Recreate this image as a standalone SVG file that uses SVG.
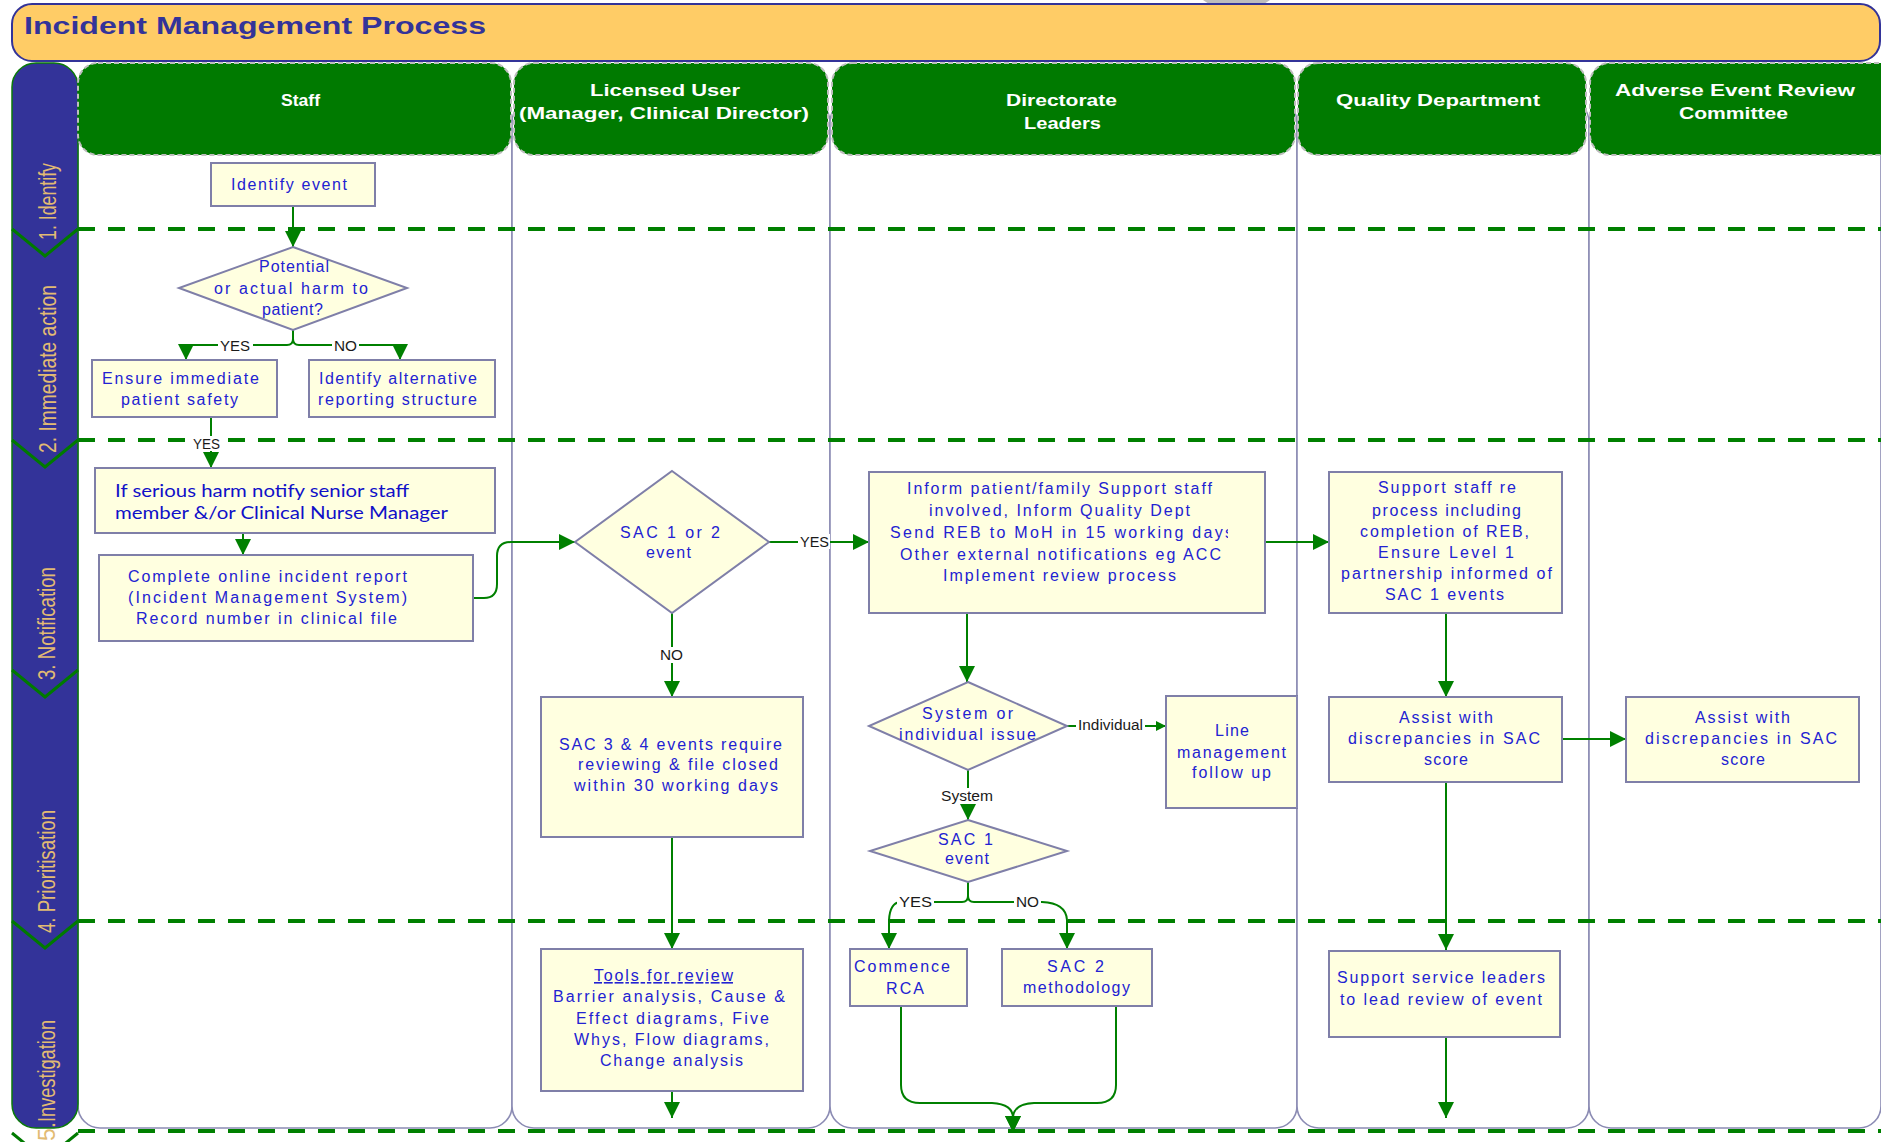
<svg xmlns="http://www.w3.org/2000/svg" width="1881" height="1142" viewBox="0 0 1881 1142">
<style>
.lane{fill:#fff;stroke:#8C8CB4;stroke-width:1.6}
.hdr{fill:#007A00;stroke:#BEBEBE;stroke-width:2;stroke-dasharray:5 3}
.ht{fill:#fff;font-family:"Liberation Sans",Arial,sans-serif;font-size:17px;font-weight:bold}
.box{fill:#FFFFE0;stroke:#7F7FA8;stroke-width:2}
.t{fill:#2222D2;font-family:"Liberation Sans",Arial,sans-serif;font-size:16px}
.tc{fill:#1010C8;font-family:Lato,"Open Sans",sans-serif;font-size:17px}
.c{fill:none;stroke:#008000;stroke-width:2}
.lbl{fill:#1a1a1a;font-family:"Liberation Sans",Arial,sans-serif;font-size:14px}
.bg{fill:#fff}
.ph{fill:#E2BB73;font-family:"Liberation Sans",Arial,sans-serif;font-size:23px}
.dash{stroke:#008000;stroke-width:4;stroke-dasharray:17 13;fill:none}
.chev{fill:none;stroke:#007A00;stroke-width:3}
</style>
<defs>
<marker id="ah" markerUnits="userSpaceOnUse" markerWidth="18" markerHeight="18" refX="16" refY="8" orient="auto"><path d="M0,0 L16,8 L0,16 z" fill="#008000"/></marker>
<marker id="ahs" markerUnits="userSpaceOnUse" markerWidth="12" markerHeight="12" refX="10" refY="5" orient="auto"><path d="M0,0 L10,5 L0,10 z" fill="#008000"/></marker>
<clipPath id="clipInform"><rect x="869" y="472" width="359" height="141"/></clipPath>
</defs>
<rect width="1881" height="1142" fill="#fff"/>
<polygon points="1203,0 1270,0 1264,4 1209,4" fill="#BDBDBD"/>
<g id="banner">
<rect x="12" y="4" width="1868" height="57" rx="20" fill="#FFCC66" stroke="#333399" stroke-width="2"/>
<text x="24" y="34" fill="#333399" font-family="Liberation Sans,Arial,sans-serif" font-size="24" font-weight="bold" textLength="462" lengthAdjust="spacingAndGlyphs">Incident Management Process</text>
</g>
<g id="lanes">
<rect class="lane" x="78" y="100" width="434" height="1028" rx="22"/>
<rect class="lane" x="512" y="100" width="318" height="1028" rx="22"/>
<rect class="lane" x="830" y="100" width="467" height="1028" rx="22"/>
<rect class="lane" x="1297" y="100" width="292" height="1028" rx="22"/>
<rect class="lane" x="1589" y="100" width="292" height="1028" rx="22"/>
</g>
<g id="band">
<rect x="12" y="63" width="66" height="1065" rx="24" fill="#333399" stroke="#0A7A0A" stroke-width="1.5"/>
<polyline class="chev" points="12,229 45,256 78,229"/>
<polyline class="chev" points="12,440 45,467 78,440"/>
<polyline class="chev" points="12,670 45,697 78,670"/>
<polyline class="chev" points="12,921 45,948 78,921"/>
<polyline class="chev" points="12,1133 45,1160 78,1133"/>
<text class="ph" transform="translate(56,240) rotate(-90)" textLength="77" lengthAdjust="spacingAndGlyphs">1. Identify</text>
<text class="ph" transform="translate(56,453) rotate(-90)" textLength="168" lengthAdjust="spacingAndGlyphs">2. Immediate action</text>
<text class="ph" transform="translate(55,680) rotate(-90)" textLength="113" lengthAdjust="spacingAndGlyphs">3. Notification</text>
<text class="ph" transform="translate(55,933) rotate(-90)" textLength="123" lengthAdjust="spacingAndGlyphs">4. Prioritisation</text>
<text class="ph" transform="translate(55,1122) rotate(-90)" textLength="102" lengthAdjust="spacingAndGlyphs">Investigation</text>
<text class="ph" transform="translate(55,1141) rotate(-90)" font-size="20">5.</text>
</g>
<g id="headers">
<g id="h-staff"><rect class="hdr" x="78" y="63" width="433" height="92" rx="20"/><text class="ht" x="281" y="106" textLength="39" lengthAdjust="spacingAndGlyphs">Staff</text></g>
<g id="h-licensed"><rect class="hdr" x="514" y="63" width="314" height="92" rx="20"/><text class="ht" x="590" y="96" textLength="150" lengthAdjust="spacingAndGlyphs">Licensed User</text><text class="ht" x="519" y="119" textLength="290" lengthAdjust="spacingAndGlyphs">(Manager, Clinical Director)</text></g>
<g id="h-directorate"><rect class="hdr" x="832" y="63" width="463" height="92" rx="20"/><text class="ht" x="1006" y="106" textLength="111" lengthAdjust="spacingAndGlyphs">Directorate</text><text class="ht" x="1024" y="129" textLength="77" lengthAdjust="spacingAndGlyphs">Leaders</text></g>
<g id="h-quality"><rect class="hdr" x="1298" y="63" width="288" height="92" rx="20"/><text class="ht" x="1336" y="106" textLength="204" lengthAdjust="spacingAndGlyphs">Quality Department</text></g>
<g id="h-aerc"><rect class="hdr" x="1590" y="63" width="310" height="92" rx="20"/><text class="ht" x="1615" y="96" textLength="240" lengthAdjust="spacingAndGlyphs">Adverse Event Review</text><text class="ht" x="1679" y="119" textLength="109" lengthAdjust="spacingAndGlyphs">Committee</text></g>
</g>
<g id="phase-lines">
<line class="dash" x1="78" y1="229" x2="1881" y2="229"/>
<line class="dash" x1="78" y1="440" x2="1881" y2="440"/>
<line class="dash" x1="78" y1="921" x2="1881" y2="921"/>
<line class="dash" x1="78" y1="1131" x2="1881" y2="1131"/>
</g>
<g id="connectors">
<path class="c" d="M293,206 V247" marker-end="url(#ah)"/>
<path class="c" d="M293,330 V339 Q293,345 287,345 H186 V360" marker-end="url(#ah)"/>
<path class="c" d="M293,339 Q293,345 299,345 H400 V360" marker-end="url(#ah)"/>
<path class="c" d="M211,417 V468" marker-end="url(#ah)"/>
<path class="c" d="M243,533 V555" marker-end="url(#ah)"/>
<path class="c" d="M473,598 H484 Q497,598 497,584 V556 Q497,542 511,542 H575" marker-end="url(#ah)"/>
<path class="c" d="M769,542 H869" marker-end="url(#ah)"/>
<path class="c" d="M672,613 V697" marker-end="url(#ah)"/>
<path class="c" d="M672,837 V949" marker-end="url(#ah)"/>
<path class="c" d="M672,1091 V1118" marker-end="url(#ah)"/>
<path class="c" d="M1265,542 H1329" marker-end="url(#ah)"/>
<path class="c" d="M967,613 V682" marker-end="url(#ah)"/>
<path class="c" d="M1067,726 H1166" marker-end="url(#ahs)"/>
<path class="c" d="M968,770 V820" marker-end="url(#ah)"/>
<path class="c" d="M968,882 V896 Q968,902 962,902 H900 Q890,903 889,920 V949" marker-end="url(#ah)"/>
<path class="c" d="M968,896 Q968,902 974,902 H1042 Q1066,903 1067,920 V949" marker-end="url(#ah)"/>
<path class="c" d="M901,1006 V1085 Q901,1103 920,1103 H992 Q1013,1104 1013,1118 V1132" marker-end="url(#ah)"/>
<path class="c" d="M1116,1006 V1085 Q1116,1103 1097,1103 H1034 Q1013,1104 1013,1118 V1132" marker-end="url(#ah)"/>
<path class="c" d="M1446,613 V697" marker-end="url(#ah)"/>
<path class="c" d="M1562,739 H1626" marker-end="url(#ah)"/>
<path class="c" d="M1446,782 V950" marker-end="url(#ah)"/>
<path class="c" d="M1446,1037 V1118" marker-end="url(#ah)"/>
<rect class="bg" x="218" y="338" width="35" height="15"/><text class="lbl" x="220" y="351" textLength="30" lengthAdjust="spacingAndGlyphs">YES</text>
<rect class="bg" x="332" y="338" width="27" height="15"/><text class="lbl" x="334" y="351" textLength="23" lengthAdjust="spacingAndGlyphs">NO</text>
<rect class="bg" x="191" y="436" width="31" height="15"/><text class="lbl" x="193" y="449" textLength="27" lengthAdjust="spacingAndGlyphs">YES</text>
<rect class="bg" x="798" y="534" width="32" height="15"/><text class="lbl" x="800" y="547" textLength="29" lengthAdjust="spacingAndGlyphs">YES</text>
<rect class="bg" x="658" y="647" width="27" height="16"/><text class="lbl" x="660" y="660" textLength="23" lengthAdjust="spacingAndGlyphs">NO</text>
<rect class="bg" x="1076" y="717" width="69" height="16"/><text class="lbl" x="1078" y="730" textLength="65" lengthAdjust="spacingAndGlyphs">Individual</text>
<rect class="bg" x="939" y="788" width="56" height="16"/><text class="lbl" x="941" y="801" textLength="52" lengthAdjust="spacingAndGlyphs">System</text>
<rect class="bg" x="897" y="894" width="37" height="16"/><text class="lbl" x="899" y="907" textLength="33" lengthAdjust="spacingAndGlyphs">YES</text>
<rect class="bg" x="1014" y="894" width="27" height="16"/><text class="lbl" x="1016" y="907" textLength="23" lengthAdjust="spacingAndGlyphs">NO</text>
</g>
<g id="n-identify"><rect class="box" x="211" y="163" width="164" height="43"/><text class="t" x="231" y="190" textLength="116" lengthAdjust="spacing">Identify event</text></g>
<g id="n-harm"><polygon class="box" points="293,247 407,288 293,330 179,288"/><text class="t" x="259" y="272" textLength="70" lengthAdjust="spacing">Potential</text><text class="t" x="214" y="294" textLength="154" lengthAdjust="spacing">or actual harm to</text><text class="t" x="262" y="315" textLength="61" lengthAdjust="spacing">patient?</text></g>
<g id="n-ensure"><rect class="box" x="92" y="360" width="185" height="57"/><text class="t" x="102" y="384" textLength="157" lengthAdjust="spacing">Ensure immediate</text><text class="t" x="121" y="405" textLength="117" lengthAdjust="spacing">patient safety</text></g>
<g id="n-alt"><rect class="box" x="309" y="360" width="186" height="57"/><text class="t" x="319" y="384" textLength="158" lengthAdjust="spacing">Identify alternative</text><text class="t" x="318" y="405" textLength="159" lengthAdjust="spacing">reporting structure</text></g>
<g id="n-serious"><rect class="box" x="95" y="468" width="400" height="65"/><text class="tc" x="115" y="497" textLength="294" lengthAdjust="spacingAndGlyphs">If serious harm notify senior staff</text><text class="tc" x="115" y="519" textLength="333" lengthAdjust="spacingAndGlyphs">member &amp;/or Clinical Nurse Manager</text></g>
<g id="n-complete"><rect class="box" x="99" y="555" width="374" height="86"/><text class="t" x="128" y="582" textLength="279" lengthAdjust="spacing">Complete online incident report</text><text class="t" x="128" y="603" textLength="279" lengthAdjust="spacing">(Incident Management System)</text><text class="t" x="136" y="624" textLength="261" lengthAdjust="spacing">Record number in clinical file</text></g>
<g id="n-sac12"><polygon class="box" points="672,471 769,542 672,613 575,542"/><text class="t" x="620" y="538" textLength="100" lengthAdjust="spacing">SAC 1 or 2</text><text class="t" x="646" y="558" textLength="45" lengthAdjust="spacing">event</text></g>
<g id="n-inform"><rect class="box" x="869" y="472" width="396" height="141"/><text class="t" x="907" y="494" textLength="305" lengthAdjust="spacing">Inform patient/family Support staff</text><text class="t" x="929" y="516" textLength="261" lengthAdjust="spacing">involved, Inform Quality Dept</text><text class="t" x="890" y="538" textLength="343" lengthAdjust="spacing" clip-path="url(#clipInform)">Send REB to MoH in 15 working days</text><text class="t" x="900" y="560" textLength="321" lengthAdjust="spacing">Other external notifications eg ACC</text><text class="t" x="943" y="581" textLength="233" lengthAdjust="spacing">Implement review process</text></g>
<g id="n-support"><rect class="box" x="1329" y="472" width="233" height="141"/><text class="t" x="1378" y="493" textLength="138" lengthAdjust="spacing">Support staff re</text><text class="t" x="1372" y="516" textLength="149" lengthAdjust="spacing">process including</text><text class="t" x="1360" y="537" textLength="169" lengthAdjust="spacing">completion of REB,</text><text class="t" x="1378" y="558" textLength="136" lengthAdjust="spacing">Ensure Level 1</text><text class="t" x="1341" y="579" textLength="211" lengthAdjust="spacing">partnership informed of</text><text class="t" x="1385" y="600" textLength="119" lengthAdjust="spacing">SAC 1 events</text></g>
<g id="n-sac34"><rect class="box" x="541" y="697" width="262" height="140"/><text class="t" x="559" y="750" textLength="223" lengthAdjust="spacing">SAC 3 &amp; 4 events require</text><text class="t" x="578" y="770" textLength="200" lengthAdjust="spacing">reviewing &amp; file closed</text><text class="t" x="574" y="791" textLength="204" lengthAdjust="spacing">within 30 working days</text></g>
<g id="n-system"><polygon class="box" points="968,682 1067,726 968,770 869,726"/><text class="t" x="922" y="719" textLength="91" lengthAdjust="spacing">System or</text><text class="t" x="899" y="740" textLength="137" lengthAdjust="spacing">individual issue</text></g>
<g id="n-line"><rect class="box" x="1166" y="696" width="131" height="112"/><text class="t" x="1215" y="736" textLength="34" lengthAdjust="spacing">Line</text><text class="t" x="1177" y="758" textLength="109" lengthAdjust="spacing">management</text><text class="t" x="1192" y="778" textLength="79" lengthAdjust="spacing">follow up</text></g>
<g id="n-sac1"><polygon class="box" points="968,820 1067,851 968,882 870,851"/><text class="t" x="938" y="845" textLength="55" lengthAdjust="spacing">SAC 1</text><text class="t" x="945" y="864" textLength="44" lengthAdjust="spacing">event</text></g>
<g id="n-assist-q"><rect class="box" x="1329" y="697" width="233" height="85"/><text class="t" x="1399" y="723" textLength="94" lengthAdjust="spacing">Assist with</text><text class="t" x="1348" y="744" textLength="192" lengthAdjust="spacing">discrepancies in SAC</text><text class="t" x="1424" y="765" textLength="44" lengthAdjust="spacing">score</text></g>
<g id="n-assist-a"><rect class="box" x="1626" y="697" width="233" height="85"/><text class="t" x="1695" y="723" textLength="95" lengthAdjust="spacing">Assist with</text><text class="t" x="1645" y="744" textLength="192" lengthAdjust="spacing">discrepancies in SAC</text><text class="t" x="1721" y="765" textLength="44" lengthAdjust="spacing">score</text></g>
<g id="n-rca"><rect class="box" x="850" y="949" width="117" height="57"/><text class="t" x="854" y="972" textLength="96" lengthAdjust="spacing">Commence</text><text class="t" x="886" y="994" textLength="38" lengthAdjust="spacing">RCA</text></g>
<g id="n-sac2"><rect class="box" x="1002" y="949" width="150" height="57"/><text class="t" x="1047" y="972" textLength="57" lengthAdjust="spacing">SAC 2</text><text class="t" x="1023" y="993" textLength="107" lengthAdjust="spacing">methodology</text></g>
<g id="n-tools"><rect class="box" x="541" y="949" width="262" height="142"/><text class="t" x="594" y="981" textLength="139" lengthAdjust="spacing" text-decoration="underline">Tools for review</text><text class="t" x="553" y="1002" textLength="232" lengthAdjust="spacing">Barrier analysis, Cause &amp;</text><text class="t" x="576" y="1024" textLength="193" lengthAdjust="spacing">Effect diagrams, Five</text><text class="t" x="574" y="1045" textLength="195" lengthAdjust="spacing">Whys, Flow diagrams,</text><text class="t" x="600" y="1066" textLength="143" lengthAdjust="spacing">Change analysis</text></g>
<g id="n-service"><rect class="box" x="1329" y="951" width="231" height="86"/><text class="t" x="1337" y="983" textLength="208" lengthAdjust="spacing">Support service leaders</text><text class="t" x="1340" y="1005" textLength="202" lengthAdjust="spacing">to lead review of event</text></g>
<line x1="1297" y1="696" x2="1297" y2="808" stroke="#8C8CB4" stroke-width="1.6"/>
</svg>
